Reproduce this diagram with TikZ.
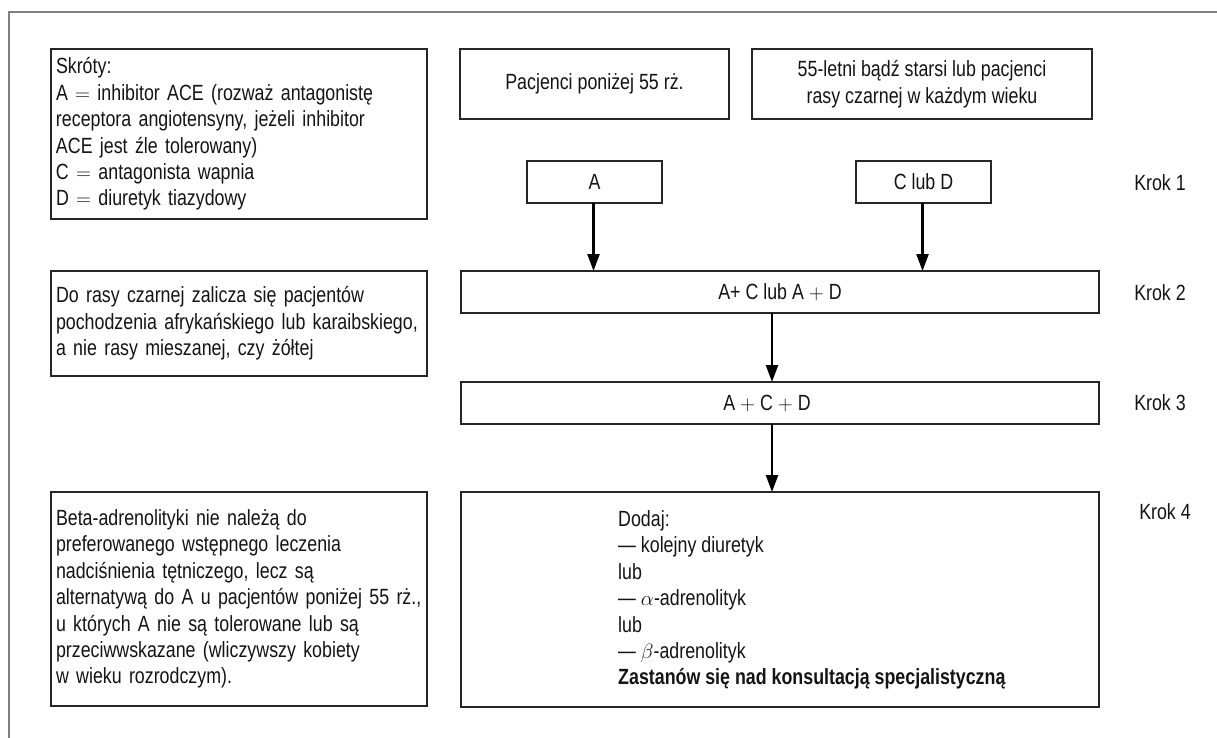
\documentclass[tikz,border=0pt]{standalone}
\usepackage{fontspec}
\setmainfont{Liberation Sans}[FakeStretch=0.81]
\usetikzlibrary{arrows.meta}
\tikzset{
  box/.style={draw=black!85, line width=1.2pt, inner sep=0pt, outer sep=0pt, anchor=north west},
  txt/.style={font=\fontsize{22}{26.4}\selectfont, text=black!92},
  leftbox/.style={box, txt, align=left, text width=366pt, inner xsep=5pt},
  flow/.style={-{Triangle[length=17pt,width=12pt]}, line width=2.4pt, black},
  krok/.style={txt}
}
\begin{document}
\begin{tikzpicture}[x=1pt,y=-1pt]
\useasboundingbox (0,0) rectangle (1217,738);
\fill[white] (0,0) rectangle (1217,738);
\draw[line width=1.5pt, black!50] (9,740) -- (9,12) -- (1220,12);

% left column
\node[leftbox, minimum height=170pt] (skr) at (51,49)
  {Skróty:\\
   A $=$ inhibitor ACE (rozważ antagonistę\\
   receptora angiotensyny, jeżeli inhibitor\\
   ACE jest źle tolerowany)\\
   C $=$ antagonista wapnia\\
   D $=$ diuretyk tiazydowy};
\node[leftbox, minimum height=105pt] (rasa) at (51,271)
  {Do rasy czarnej zalicza się pacjentów\\
   pochodzenia afrykańskiego lub karaibskiego,\\
   a nie rasy mieszanej, czy żółtej};
\node[leftbox, minimum height=214pt] (beta) at (51,492)
  {Beta-adrenolityki nie należą do\\
   preferowanego wstępnego leczenia\\
   nadciśnienia tętniczego, lecz są\\
   alternatywą do A u pacjentów poniżej 55 rż.,\\
   u których A nie są tolerowane lub są\\
   przeciwwskazane (wliczywszy kobiety\\
   w wieku rozrodczym).};

% top boxes
\node[box, txt, minimum width=269pt, minimum height=70pt] (young) at (460,49)
  {Pacjenci poniżej 55 rż.};
\node[box, txt, align=center, minimum width=340pt, minimum height=70pt] (old) at (752,49)
  {55-letni bądź starsi lub pacjenci\\rasy czarnej w każdym wieku};

% step 1
\node[box, txt, minimum width=135pt, minimum height=42pt] (a) at (527,161) {A};
\node[box, txt, minimum width=135pt, minimum height=42pt] (cd) at (856,161) {C lub D};

% steps 2-4
\node[box, txt, minimum width=638pt, minimum height=42pt] (s2) at (461,271) {A+ C lub A $+$ D};
\node[box, txt, minimum width=638pt, minimum height=42pt] (s3) at (461,382) {A $+$ C $+$ D\hspace*{26pt}};
\node[box, minimum width=638pt, minimum height=215pt] (s4) at (461,492) {};
\node[txt, align=left, anchor=west, inner sep=0pt] (s4t) at (618,600)
  {Dodaj:\\
   — kolejny diuretyk\\
   lub\\
   — $\alpha$-adrenolityk\\
   lub\\
   — $\beta$-adrenolityk\\
   \textbf{Zastanów się nad konsultacją specjalistyczną}};

% step labels
\node[krok] (k1) at (1160,183) {Krok 1};
\node[krok] (k2) at (1160,293) {Krok 2};
\node[krok] (k3) at (1160,403) {Krok 3};
\node[krok] (k4) at (1165,512) {Krok 4};

% arrows
\draw[flow] ([xshift=-1pt]a.south) -- ([xshift=-1pt]a.south |- s2.north);
\draw[flow] ([xshift=-1pt]cd.south) -- ([xshift=-1pt]cd.south |- s2.north);
\draw[flow] ([xshift=-8pt]s2.south) -- ([xshift=-8pt]s3.north);
\draw[flow] ([xshift=-8pt]s3.south) -- ([xshift=-8pt]s4.north);
\end{tikzpicture}
\end{document}
